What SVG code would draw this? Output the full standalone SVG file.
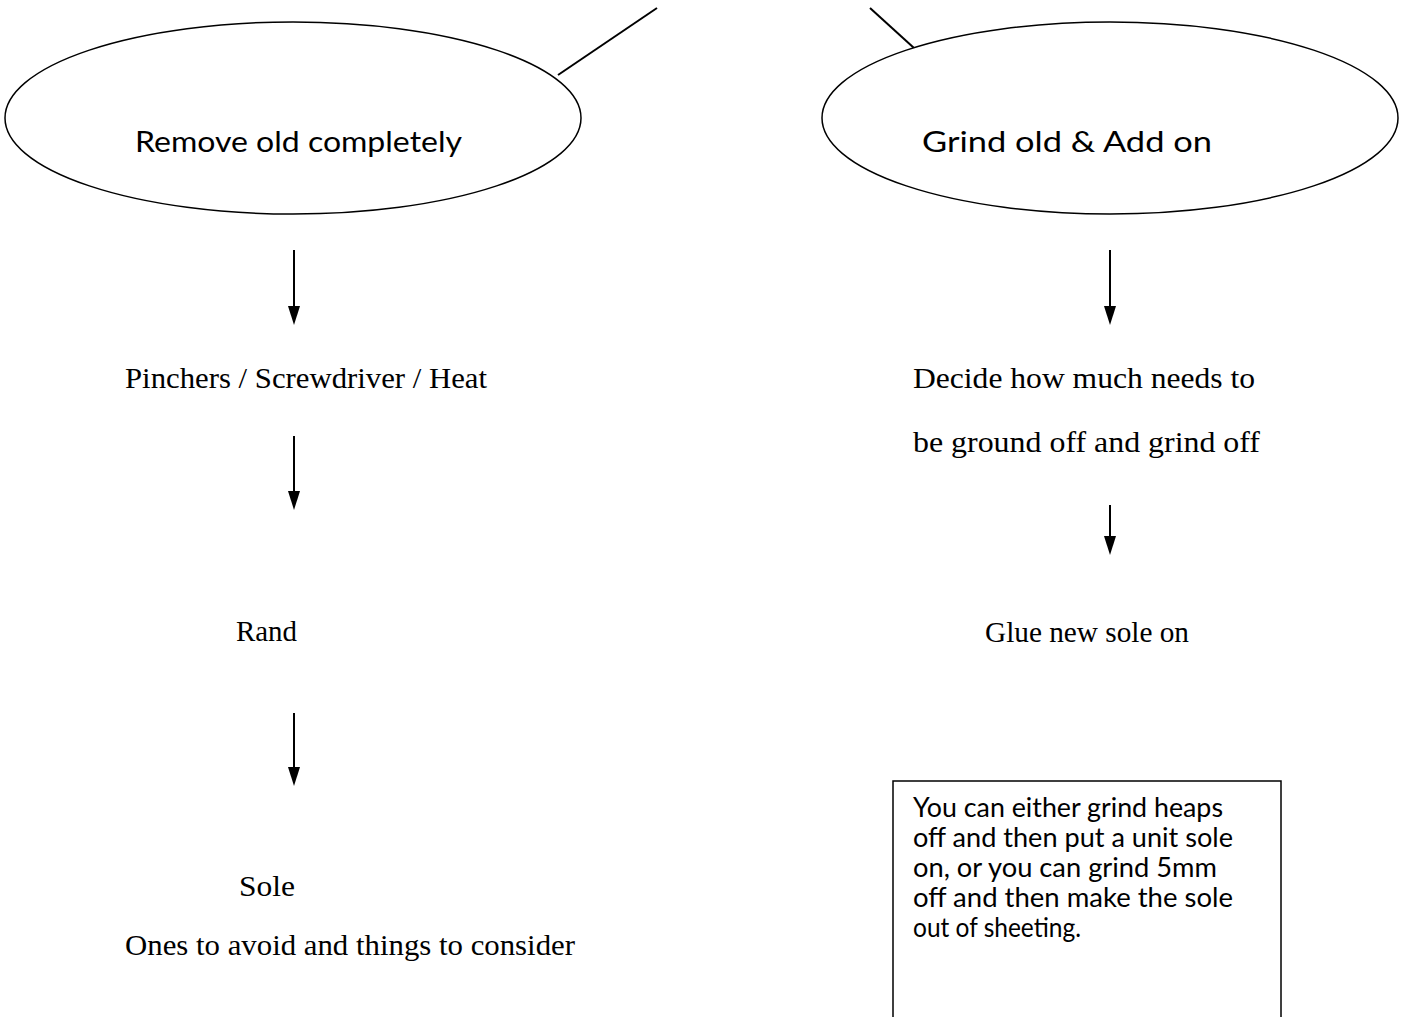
<svg xmlns="http://www.w3.org/2000/svg" width="1403" height="1017" viewBox="0 0 1403 1017">
<style>
.shape{fill:#fff;stroke:#000;stroke-width:1.5}
.ln{stroke:#000;stroke-width:2;fill:none}
.head{fill:#000}
.cal{font-family:Lato,"Open Sans","Liberation Sans",sans-serif;fill:#000}
.tnr{font-family:"Liberation Serif",serif;font-size:30px;fill:#000}
</style>
<defs>
<path id="ah" class="head" d="M-6,0 L6,0 L0,19 Z"/>
</defs>
<rect width="1403" height="1017" fill="#fff"/>
<g id="connectors">
<line class="ln" x1="558" y1="75" x2="657" y2="8"/>
<line class="ln" x1="870" y1="8" x2="914" y2="48"/>
<line class="ln" x1="294" y1="250" x2="294" y2="308"/>
<line class="ln" x1="294" y1="436" x2="294" y2="493"/>
<line class="ln" x1="294" y1="713" x2="294" y2="769"/>
<line class="ln" x1="1110" y1="250" x2="1110" y2="308"/>
<line class="ln" x1="1110" y1="505" x2="1110" y2="538"/>
<use href="#ah" x="294" y="306"/>
<use href="#ah" x="294" y="491"/>
<use href="#ah" x="294" y="767"/>
<use href="#ah" x="1110" y="306"/>
<use href="#ah" x="1110" y="536"/>
</g>
<g id="node-remove">
<ellipse class="shape" cx="293" cy="118" rx="288" ry="96"/>
<text class="cal" x="135" y="152" font-size="29" textLength="327" lengthAdjust="spacingAndGlyphs">Remove old completely</text>
</g>
<g id="node-grind">
<ellipse class="shape" cx="1110" cy="118" rx="288" ry="96"/>
<text class="cal" x="922" y="152" font-size="29" textLength="290" lengthAdjust="spacingAndGlyphs">Grind old &amp; Add on</text>
</g>
<g id="node-pinchers"><text class="tnr" x="125" y="388" textLength="362" lengthAdjust="spacingAndGlyphs">Pinchers / Screwdriver / Heat</text></g>
<g id="node-decide">
<text class="tnr" x="913" y="388" textLength="342" lengthAdjust="spacingAndGlyphs">Decide how much needs to</text>
<text class="tnr" x="913" y="452" textLength="347" lengthAdjust="spacingAndGlyphs">be ground off and grind off</text>
</g>
<g id="node-rand"><text class="tnr" x="236" y="641" textLength="61" lengthAdjust="spacingAndGlyphs">Rand</text></g>
<g id="node-glue"><text class="tnr" x="985" y="642" textLength="204" lengthAdjust="spacingAndGlyphs">Glue new sole on</text></g>
<g id="node-sole">
<text class="tnr" x="239" y="896" textLength="56" lengthAdjust="spacingAndGlyphs">Sole</text>
<text class="tnr" x="125" y="955" textLength="450" lengthAdjust="spacingAndGlyphs">Ones to avoid and things to consider</text>
</g>
<g id="node-note">
<rect class="shape" x="893" y="781" width="388" height="250"/>
<g class="cal" font-size="26">
<text x="913" y="817" textLength="310" lengthAdjust="spacingAndGlyphs">You can either grind heaps</text>
<text x="913" y="847" textLength="320" lengthAdjust="spacingAndGlyphs">off and then put a unit sole</text>
<text x="913" y="877" textLength="304" lengthAdjust="spacingAndGlyphs">on, or you can grind 5mm</text>
<text x="913" y="907" textLength="320" lengthAdjust="spacingAndGlyphs">off and then make the sole</text>
<text x="913" y="937" textLength="168" lengthAdjust="spacingAndGlyphs">out of sheeting.</text>
</g>
</g>
</svg>
